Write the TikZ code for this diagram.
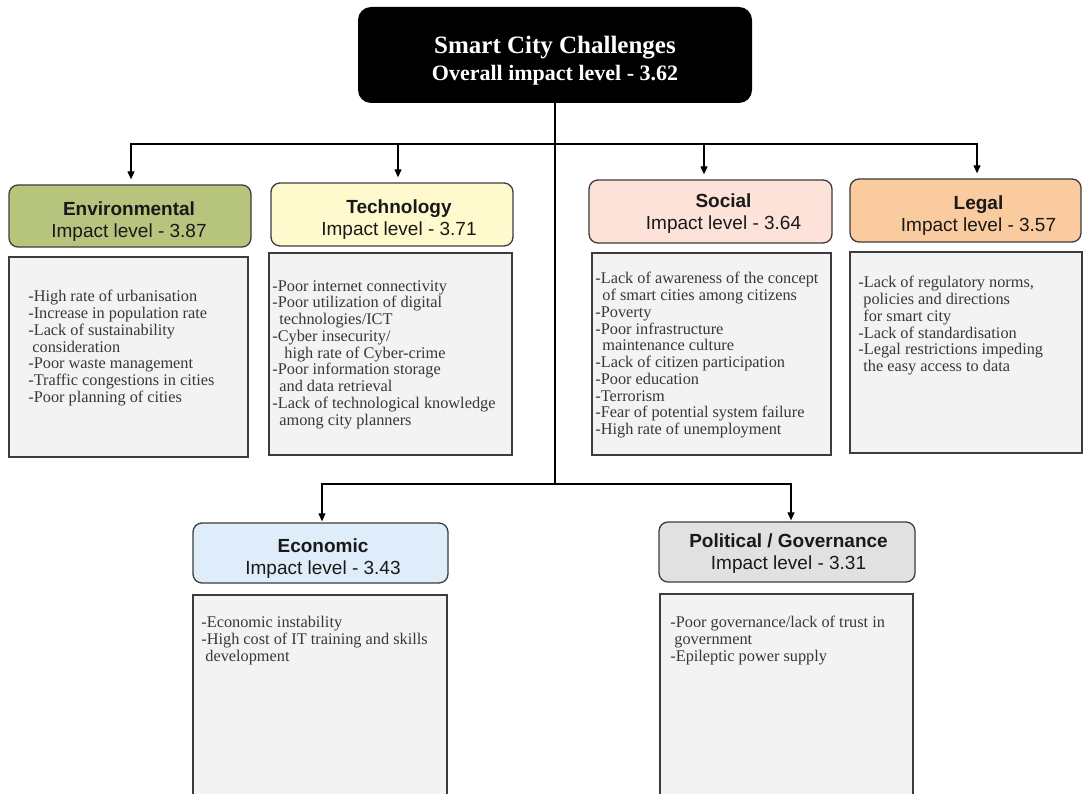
\documentclass[tikz,border=0pt]{standalone}
\usepackage{fontspec}
\setmainfont{Liberation Serif}
\setsansfont{Liberation Sans}
\usetikzlibrary{arrows.meta}

\tikzset{every picture/.style={line width=0.75pt}}
\tikzset{
  headbox/.style={draw={rgb, 255:red, 60; green, 60; blue, 60 }, line width=1.3pt, rounded corners=9pt, inner sep=0pt},
  headtext/.style={align=center, inner sep=0pt, text={rgb, 255:red, 25; green, 25; blue, 25 }, font=\sffamily\fontsize{19}{22}\selectfont},
  listbox/.style={draw={rgb, 255:red, 60; green, 60; blue, 60 }, fill={rgb, 255:red, 243; green, 243; blue, 243 }, line width=1.3pt, inner sep=0pt},
  listtext/.style={anchor=north west, inner sep=0pt, align=left, text={rgb, 255:red, 55; green, 55; blue, 55 }, font=\fontsize{16.3}{16.75}\selectfont},
  link/.style={line width=1.1pt, shorten >=5pt, -{Triangle[length=8pt,width=7pt]}},
}
\newcommand{\cont}[1][7pt]{\hspace*{#1}}

\begin{document}
\begin{tikzpicture}[x=1pt,y=1pt,yscale=-1]
\useasboundingbox (0,0) rectangle (1083,794);
\clip (0,0) rectangle (1083,794);

%Rounded Rect: title
\node [fill=black, rounded corners=13pt, minimum width=394pt, minimum height=96pt, inner sep=0pt] (top) at (555,55) {};
\node [align=center, inner sep=0pt, text=white, font=\bfseries\fontsize{25}{27}\selectfont] (toptxt) at (555,60.5) {Smart City Challenges\\{\fontsize{22}{27}\selectfont Overall impact level - 3.62}};

%Rounded Rect: headers
\node [headbox, fill={rgb, 255:red, 183; green, 196; blue, 126 }, minimum width=242pt, minimum height=62pt] (env) at (130,216) {};
\node [headbox, fill={rgb, 255:red, 255; green, 250; blue, 205 }, minimum width=242pt, minimum height=63pt] (tech) at (392,214.5) {};
\node [headbox, fill={rgb, 255:red, 252; green, 226; blue, 216 }, minimum width=243pt, minimum height=63pt] (soc) at (710.5,211.5) {};
\node [headbox, fill={rgb, 255:red, 250; green, 203; blue, 158 }, minimum width=231pt, minimum height=63pt] (legal) at (965.5,210.5) {};
\node [headbox, fill={rgb, 255:red, 223; green, 236; blue, 249 }, minimum width=255pt, minimum height=60pt] (econ) at (320.5,553) {};
\node [headbox, fill={rgb, 255:red, 225; green, 225; blue, 225 }, minimum width=256pt, minimum height=60pt] (polit) at (787,552) {};

% Text Node
\node [headtext] (envhead) at (129,222) {\textbf{Environmental}\\Impact level - 3.87};
% Text Node
\node [headtext] (techhead) at (399,219.5) {\textbf{Technology}\\Impact level - 3.71};
% Text Node
\node [headtext] (sochead) at (723.5,214) {\textbf{Social}\\Impact level - 3.64};
% Text Node
\node [headtext] (legalhead) at (978.5,215.5) {\textbf{Legal}\\Impact level - 3.57};
% Text Node
\node [headtext] (econhead) at (323,559) {\textbf{Economic}\\Impact level - 3.43};
% Text Node
\node [headtext] (polithead) at (788.5,553.5) {\textbf{Political / Governance}\\Impact level - 3.31};

%Shape: Rectangle lists
\node [listbox, minimum width=239pt, minimum height=200pt] (envlist) at (128.5,357) {};
\node [listbox, minimum width=243pt, minimum height=202pt] (techlist) at (390.5,354) {};
\node [listbox, minimum width=239pt, minimum height=202pt] (soclist) at (711.5,354) {};
\node [listbox, minimum width=232pt, minimum height=201pt] (legallist) at (966,352.5) {};
\node [listbox, minimum width=254pt, minimum height=210pt] (econlist) at (320,700) {};
\node [listbox, minimum width=253pt, minimum height=212pt] (politlist) at (786.5,700) {};

% Text Node
\node [listtext] (envtxt) at (28,290) {-High rate of urbanisation\\-Increase in population rate\\-Lack of sustainability\\\cont[4pt]consideration\\-Poor waste management\\-Traffic congestions in cities\\-Poor planning of cities};
% Text Node
\node [listtext] (techtxt) at (272,280) {-Poor internet connectivity\\-Poor utilization of digital\\\cont technologies/ICT\\-Cyber insecurity/\\\cont[12pt]high rate of Cyber-crime\\-Poor information storage\\\cont and data retrieval\\-Lack of technological knowledge\\\cont among city planners};
% Text Node
\node [listtext] (soctxt) at (595,272) {-Lack of awareness of the concept\\\cont of smart cities among citizens\\-Poverty\\-Poor infrastructure\\\cont maintenance culture\\-Lack of citizen participation\\-Poor education\\-Terrorism\\-Fear of potential system failure\\-High rate of unemployment};
% Text Node
\node [listtext] (legaltxt) at (858,276) {-Lack of regulatory norms,\\\cont[5pt]policies and directions\\\cont[5pt]for smart city\\-Lack of standardisation\\-Legal restrictions impeding\\\cont[5pt]the easy access to data};
% Text Node
\node [listtext] (econtxt) at (201,616) {-Economic instability\\-High cost of IT training and skills\\\cont[4pt]development};
% Text Node
\node [listtext] (polittxt) at (670,616) {-Poor governance/lack of trust in\\\cont[4pt]government\\-Epileptic power supply};

%Connectors
\coordinate (split1) at (555,144);
\coordinate (split2) at (555,484);
\draw [line width=1.1pt] (top.south) -- (split2);
\draw [link] (split1) -| ([xshift=1pt]env.north);
\draw [link] (split1) -| ([xshift=6pt]tech.north);
\draw [link] (split1) -| ([xshift=-6.5pt]soc.north);
\draw [link] (split1) -| ([xshift=11.5pt]legal.north);
\draw [link, shorten >=1pt] (split2) -| ([xshift=1.5pt]econ.north);
\draw [link, shorten >=1pt] (split2) -| ([xshift=4pt]polit.north);
\end{tikzpicture}
\end{document}
